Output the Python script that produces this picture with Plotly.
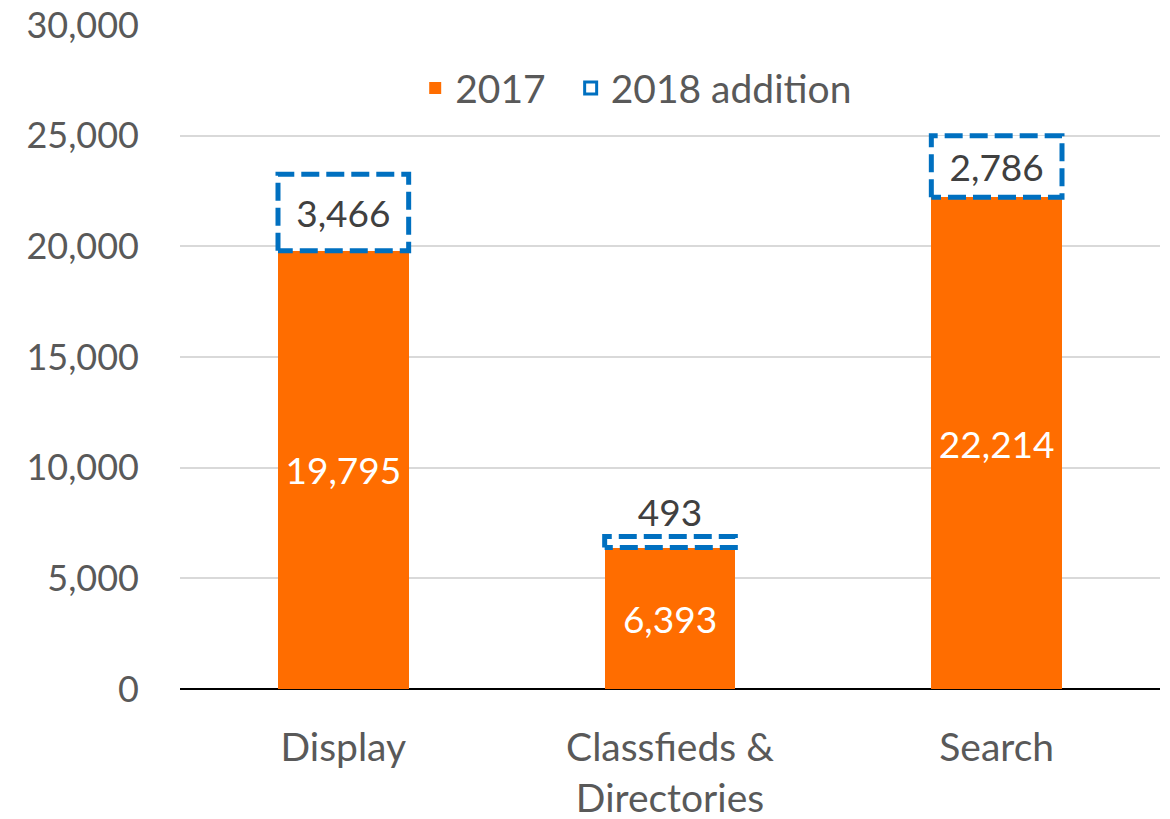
import plotly.graph_objects as go

categories = ["Display", "Classfieds &<br>Directories", "Search"]
values_2017 = [19795, 6393, 22214]
values_2018_add = [3466, 493, 2786]
y_ticks = [0, 5000, 10000, 15000, 20000, 25000, 30000]

ORANGE = "#FF6D00"
BLUE = "#0070C0"
AXIS_TXT = "#595959"
LABEL_TXT = "#404040"
FONT = "Lato"
FS_TICK = 36
FS_DATA = 37
FS_TEXT = 39
BAR_W = 0.4

xpos = list(range(len(categories)))

fig = go.Figure()
fig.add_trace(go.Bar(
    x=xpos, y=values_2017, width=BAR_W, name="2017\u00a0\u00a0",
    marker=dict(color=ORANGE, line=dict(width=0)),
    text=[f"{v:,}" for v in values_2017], textposition="inside",
    insidetextanchor="middle", textfont=dict(color="white", size=FS_DATA, family=FONT),
    constraintext="none",
))
fig.add_trace(go.Bar(
    x=xpos, y=values_2018_add, width=BAR_W, name="2018 addition", showlegend=False,
    marker=dict(color="white", line=dict(width=0)),
    text=[f"{v:,}" for v in values_2018_add], textposition="auto",
    insidetextanchor="middle",
    insidetextfont=dict(color=LABEL_TXT, size=FS_DATA, family=FONT),
    outsidetextfont=dict(color=LABEL_TXT, size=FS_DATA, family=FONT),
    constraintext="none", cliponaxis=False,
))

# dashed outlines of the 2018 additions, derived from the data
bx, by = [], []
for i, (b, a) in enumerate(zip(values_2017, values_2018_add)):
    x0, x1 = i - BAR_W / 2, i + BAR_W / 2
    y0, y1 = b, b + a
    bx += [x0, x0, x1, x1, x0, None]
    by += [y0, y1, y1, y0, y0, None]
fig.add_trace(go.Scatter(
    x=bx, y=by, mode="lines", name="2018 addition", showlegend=False,
    line=dict(color=BLUE, width=5, dash="18px,7px"),
    hoverinfo="skip",
))
# legend entry for the dashed boxes
fig.add_trace(go.Bar(
    x=[None], y=[None], name="2018 addition",
    marker=dict(color="white", line=dict(color=BLUE, width=3)),
))

fig.update_layout(
    barmode="stack",
    width=1170, height=819,
    margin=dict(l=180, r=10, t=25, b=130, autoexpand=False),
    paper_bgcolor="white", plot_bgcolor="white",
    font=dict(family=FONT, size=FS_TICK, color=AXIS_TXT),
    legend=dict(orientation="h", x=0.24, xanchor="left", y=0.905, yanchor="middle",
                traceorder="normal",
                font=dict(size=FS_TEXT, color=AXIS_TXT, family=FONT),
                bgcolor="rgba(0,0,0,0)"),
    xaxis=dict(range=[-0.5, 2.5], tickvals=xpos, ticktext=categories,
               showgrid=False, zeroline=False, showline=False, automargin=False,
               ticks="", ticklabelstandoff=32,
               tickfont=dict(size=FS_TEXT, color=AXIS_TXT, family=FONT)),
    yaxis=dict(range=[0, 30000], tickvals=y_ticks, tickformat=",",
               showgrid=True, gridcolor="#D9D9D9", gridwidth=2,
               zeroline=True, zerolinecolor="#000000", zerolinewidth=2,
               showline=False, ticks="", ticklabelstandoff=40, automargin=False,
               tickfont=dict(size=FS_TICK, color=AXIS_TXT, family=FONT)),
)

fig.write_html("out.html", config={"displayModeBar": False},
               post_script="document.body.style.margin='0';")
